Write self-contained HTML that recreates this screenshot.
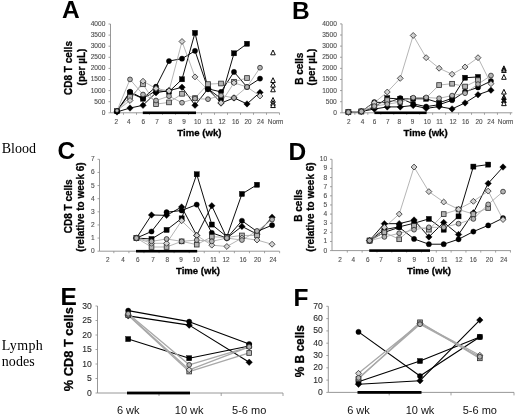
<!DOCTYPE html>
<html><head><meta charset="utf-8"><style>
html,body{margin:0;padding:0;background:#fff;}
body{width:520px;height:415px;overflow:hidden;font-family:"Liberation Sans", sans-serif;}
svg{display:block;will-change:transform;}
</style></head><body>
<svg width="520" height="415" viewBox="0 0 520 415">
<rect width="520" height="415" fill="#fff"/>
<path d="M110.5 24 V112.8 H279.5" fill="none" stroke="#8c8c8c" stroke-width="0.9"/>
<path d="M108.5 112.8H110.5" stroke="#8c8c8c" stroke-width="0.8"/>
<text x="105.3" y="114.78" font-family='"Liberation Sans", sans-serif' font-size="6.6" font-weight="normal" text-anchor="end" fill="#505050" stroke="#505050" stroke-width="0.12">0</text>
<path d="M108.5 101.7H110.5" stroke="#8c8c8c" stroke-width="0.8"/>
<text x="105.3" y="103.68" font-family='"Liberation Sans", sans-serif' font-size="6.6" font-weight="normal" text-anchor="end" fill="#505050" stroke="#505050" stroke-width="0.12">500</text>
<path d="M108.5 90.6H110.5" stroke="#8c8c8c" stroke-width="0.8"/>
<text x="105.3" y="92.58" font-family='"Liberation Sans", sans-serif' font-size="6.6" font-weight="normal" text-anchor="end" fill="#505050" stroke="#505050" stroke-width="0.12">1000</text>
<path d="M108.5 79.5H110.5" stroke="#8c8c8c" stroke-width="0.8"/>
<text x="105.3" y="81.48" font-family='"Liberation Sans", sans-serif' font-size="6.6" font-weight="normal" text-anchor="end" fill="#505050" stroke="#505050" stroke-width="0.12">1500</text>
<path d="M108.5 68.4H110.5" stroke="#8c8c8c" stroke-width="0.8"/>
<text x="105.3" y="70.38" font-family='"Liberation Sans", sans-serif' font-size="6.6" font-weight="normal" text-anchor="end" fill="#505050" stroke="#505050" stroke-width="0.12">2000</text>
<path d="M108.5 57.3H110.5" stroke="#8c8c8c" stroke-width="0.8"/>
<text x="105.3" y="59.28" font-family='"Liberation Sans", sans-serif' font-size="6.6" font-weight="normal" text-anchor="end" fill="#505050" stroke="#505050" stroke-width="0.12">2500</text>
<path d="M108.5 46.2H110.5" stroke="#8c8c8c" stroke-width="0.8"/>
<text x="105.3" y="48.18" font-family='"Liberation Sans", sans-serif' font-size="6.6" font-weight="normal" text-anchor="end" fill="#505050" stroke="#505050" stroke-width="0.12">3000</text>
<path d="M108.5 35.1H110.5" stroke="#8c8c8c" stroke-width="0.8"/>
<text x="105.3" y="37.08" font-family='"Liberation Sans", sans-serif' font-size="6.6" font-weight="normal" text-anchor="end" fill="#505050" stroke="#505050" stroke-width="0.12">3500</text>
<path d="M108.5 24H110.5" stroke="#8c8c8c" stroke-width="0.8"/>
<text x="105.3" y="25.98" font-family='"Liberation Sans", sans-serif' font-size="6.6" font-weight="normal" text-anchor="end" fill="#505050" stroke="#505050" stroke-width="0.12">4000</text>
<path d="M123.5 112.8V114.8" stroke="#8c8c8c" stroke-width="0.8"/>
<path d="M136.5 112.8V114.8" stroke="#8c8c8c" stroke-width="0.8"/>
<path d="M149.5 112.8V114.8" stroke="#8c8c8c" stroke-width="0.8"/>
<path d="M162.5 112.8V114.8" stroke="#8c8c8c" stroke-width="0.8"/>
<path d="M175.5 112.8V114.8" stroke="#8c8c8c" stroke-width="0.8"/>
<path d="M188.5 112.8V114.8" stroke="#8c8c8c" stroke-width="0.8"/>
<path d="M201.5 112.8V114.8" stroke="#8c8c8c" stroke-width="0.8"/>
<path d="M214.5 112.8V114.8" stroke="#8c8c8c" stroke-width="0.8"/>
<path d="M227.5 112.8V114.8" stroke="#8c8c8c" stroke-width="0.8"/>
<path d="M240.5 112.8V114.8" stroke="#8c8c8c" stroke-width="0.8"/>
<path d="M253.5 112.8V114.8" stroke="#8c8c8c" stroke-width="0.8"/>
<path d="M266.5 112.8V114.8" stroke="#8c8c8c" stroke-width="0.8"/>
<path d="M279.5 112.8V114.8" stroke="#8c8c8c" stroke-width="0.8"/>
<text x="116.3" y="123.6" font-family='"Liberation Sans", sans-serif' font-size="6.4" font-weight="normal" text-anchor="middle" fill="#505050" stroke="#505050" stroke-width="0.12">2</text>
<text x="128.7" y="123.6" font-family='"Liberation Sans", sans-serif' font-size="6.4" font-weight="normal" text-anchor="middle" fill="#505050" stroke="#505050" stroke-width="0.12">4</text>
<text x="143.4" y="123.6" font-family='"Liberation Sans", sans-serif' font-size="6.4" font-weight="normal" text-anchor="middle" fill="#505050" stroke="#505050" stroke-width="0.12">6</text>
<text x="157" y="123.6" font-family='"Liberation Sans", sans-serif' font-size="6.4" font-weight="normal" text-anchor="middle" fill="#505050" stroke="#505050" stroke-width="0.12">7</text>
<text x="170.2" y="123.6" font-family='"Liberation Sans", sans-serif' font-size="6.4" font-weight="normal" text-anchor="middle" fill="#505050" stroke="#505050" stroke-width="0.12">8</text>
<text x="184" y="123.6" font-family='"Liberation Sans", sans-serif' font-size="6.4" font-weight="normal" text-anchor="middle" fill="#505050" stroke="#505050" stroke-width="0.12">9</text>
<text x="197.5" y="123.6" font-family='"Liberation Sans", sans-serif' font-size="6.4" font-weight="normal" text-anchor="middle" fill="#505050" stroke="#505050" stroke-width="0.12">10</text>
<text x="209.4" y="123.6" font-family='"Liberation Sans", sans-serif' font-size="6.4" font-weight="normal" text-anchor="middle" fill="#505050" stroke="#505050" stroke-width="0.12">11</text>
<text x="222.1" y="123.6" font-family='"Liberation Sans", sans-serif' font-size="6.4" font-weight="normal" text-anchor="middle" fill="#505050" stroke="#505050" stroke-width="0.12">12</text>
<text x="235.6" y="123.6" font-family='"Liberation Sans", sans-serif' font-size="6.4" font-weight="normal" text-anchor="middle" fill="#505050" stroke="#505050" stroke-width="0.12">16</text>
<text x="248.1" y="123.6" font-family='"Liberation Sans", sans-serif' font-size="6.4" font-weight="normal" text-anchor="middle" fill="#505050" stroke="#505050" stroke-width="0.12">20</text>
<text x="260.6" y="123.6" font-family='"Liberation Sans", sans-serif' font-size="6.4" font-weight="normal" text-anchor="middle" fill="#505050" stroke="#505050" stroke-width="0.12">24</text>
<text x="275.6" y="123.6" font-family='"Liberation Sans", sans-serif' font-size="6.4" font-weight="normal" text-anchor="middle" fill="#505050" stroke="#505050" stroke-width="0.12">Norm</text>
<rect x="142.8" y="111.5" width="53.2" height="2.6" fill="#000"/>
<path d="M117 111.91 L130 108.03 L143 105.3 L156 92.71 L169 90.6 L182 87.29 L195 105.21 L208 88.89 L221 103.1 L234 97.9 L247 103.9 L260 92.4" fill="none" stroke="#000" stroke-width="0.95" stroke-linejoin="round"/>
<path d="M117 111.02 L130 91.71 L143 98.37 L156 86.72 L169 61.07 L182 58.63 L195 50.86 L208 88.82 L221 91.91 L234 71.91 L247 87 L260 78.61" fill="none" stroke="#000" stroke-width="0.95" stroke-linejoin="round"/>
<path d="M117 111.25 L130 92.82 L143 98.7 L156 90.6 L169 91.71 L182 79.28 L195 32.88 L208 88.82 L221 98.5 L234 53.3 L247 43.76" fill="none" stroke="#000" stroke-width="0.95" stroke-linejoin="round"/>
<path d="M117 110.58 L130 96.9 L143 84.3 L156 104.1 L169 102.41 L182 93.8 L195 98.1 L208 84.1 L221 83.5 L234 81.72 L247 78.01" fill="none" stroke="#a8a8a8" stroke-width="0.85" stroke-linejoin="round"/>
<path d="M117 110.58 L130 100.5 L143 81.21 L156 88.49 L169 90.91 L182 41.49 L195 76.9 L208 89.93 L221 102.81 L234 82.81 L247 87 L260 95.99" fill="none" stroke="#a8a8a8" stroke-width="0.85" stroke-linejoin="round"/>
<path d="M117 110.8 L130 79.41 L143 94.51 L156 100.5 L169 96.19 L182 102.7 L195 98.59 L208 99.19 L221 95.51 L234 97.9 L247 87 L260 67.71" fill="none" stroke="#a8a8a8" stroke-width="0.85" stroke-linejoin="round"/>
<path d="M117 108.66L120.25 111.91L117 115.16L113.75 111.91Z" fill="#000" stroke="#000" stroke-width="0.4"/>
<path d="M130 104.78L133.25 108.03L130 111.28L126.75 108.03Z" fill="#000" stroke="#000" stroke-width="0.4"/>
<path d="M143 102.05L146.25 105.3L143 108.55L139.75 105.3Z" fill="#000" stroke="#000" stroke-width="0.4"/>
<path d="M156 89.46L159.25 92.71L156 95.96L152.75 92.71Z" fill="#000" stroke="#000" stroke-width="0.4"/>
<path d="M169 87.35L172.25 90.6L169 93.85L165.75 90.6Z" fill="#000" stroke="#000" stroke-width="0.4"/>
<path d="M182 84.04L185.25 87.29L182 90.54L178.75 87.29Z" fill="#000" stroke="#000" stroke-width="0.4"/>
<path d="M195 101.96L198.25 105.21L195 108.46L191.75 105.21Z" fill="#000" stroke="#000" stroke-width="0.4"/>
<path d="M208 85.64L211.25 88.89L208 92.14L204.75 88.89Z" fill="#000" stroke="#000" stroke-width="0.4"/>
<path d="M221 99.85L224.25 103.1L221 106.35L217.75 103.1Z" fill="#000" stroke="#000" stroke-width="0.4"/>
<path d="M234 94.65L237.25 97.9L234 101.15L230.75 97.9Z" fill="#000" stroke="#000" stroke-width="0.4"/>
<path d="M247 100.65L250.25 103.9L247 107.15L243.75 103.9Z" fill="#000" stroke="#000" stroke-width="0.4"/>
<path d="M260 89.15L263.25 92.4L260 95.65L256.75 92.4Z" fill="#000" stroke="#000" stroke-width="0.4"/>
<circle cx="117" cy="111.02" r="2.6" fill="#000" stroke="#000" stroke-width="0.4"/>
<circle cx="130" cy="91.71" r="2.6" fill="#000" stroke="#000" stroke-width="0.4"/>
<circle cx="143" cy="98.37" r="2.6" fill="#000" stroke="#000" stroke-width="0.4"/>
<circle cx="156" cy="86.72" r="2.6" fill="#000" stroke="#000" stroke-width="0.4"/>
<circle cx="169" cy="61.07" r="2.6" fill="#000" stroke="#000" stroke-width="0.4"/>
<circle cx="182" cy="58.63" r="2.6" fill="#000" stroke="#000" stroke-width="0.4"/>
<circle cx="195" cy="50.86" r="2.6" fill="#000" stroke="#000" stroke-width="0.4"/>
<circle cx="208" cy="88.82" r="2.6" fill="#000" stroke="#000" stroke-width="0.4"/>
<circle cx="221" cy="91.91" r="2.6" fill="#000" stroke="#000" stroke-width="0.4"/>
<circle cx="234" cy="71.91" r="2.6" fill="#000" stroke="#000" stroke-width="0.4"/>
<circle cx="247" cy="87" r="2.6" fill="#000" stroke="#000" stroke-width="0.4"/>
<circle cx="260" cy="78.61" r="2.6" fill="#000" stroke="#000" stroke-width="0.4"/>
<rect x="114.45" y="108.7" width="5.1" height="5.1" fill="#000" stroke="#000" stroke-width="0.4"/>
<rect x="127.45" y="90.27" width="5.1" height="5.1" fill="#000" stroke="#000" stroke-width="0.4"/>
<rect x="140.45" y="96.15" width="5.1" height="5.1" fill="#000" stroke="#000" stroke-width="0.4"/>
<rect x="153.45" y="88.05" width="5.1" height="5.1" fill="#000" stroke="#000" stroke-width="0.4"/>
<rect x="166.45" y="89.16" width="5.1" height="5.1" fill="#000" stroke="#000" stroke-width="0.4"/>
<rect x="179.45" y="76.73" width="5.1" height="5.1" fill="#000" stroke="#000" stroke-width="0.4"/>
<rect x="192.45" y="30.33" width="5.1" height="5.1" fill="#000" stroke="#000" stroke-width="0.4"/>
<rect x="205.45" y="86.27" width="5.1" height="5.1" fill="#000" stroke="#000" stroke-width="0.4"/>
<rect x="218.45" y="95.95" width="5.1" height="5.1" fill="#000" stroke="#000" stroke-width="0.4"/>
<rect x="231.45" y="50.75" width="5.1" height="5.1" fill="#000" stroke="#000" stroke-width="0.4"/>
<rect x="244.45" y="41.21" width="5.1" height="5.1" fill="#000" stroke="#000" stroke-width="0.4"/>
<rect x="127.65" y="94.55" width="4.7" height="4.7" fill="#b4b4b4" stroke="#2a2a2a" stroke-width="0.8"/>
<rect x="140.65" y="81.95" width="4.7" height="4.7" fill="#b4b4b4" stroke="#2a2a2a" stroke-width="0.8"/>
<rect x="153.65" y="101.75" width="4.7" height="4.7" fill="#b4b4b4" stroke="#2a2a2a" stroke-width="0.8"/>
<rect x="166.65" y="100.06" width="4.7" height="4.7" fill="#b4b4b4" stroke="#2a2a2a" stroke-width="0.8"/>
<rect x="179.65" y="91.45" width="4.7" height="4.7" fill="#b4b4b4" stroke="#2a2a2a" stroke-width="0.8"/>
<rect x="192.65" y="95.75" width="4.7" height="4.7" fill="#b4b4b4" stroke="#2a2a2a" stroke-width="0.8"/>
<rect x="205.65" y="81.75" width="4.7" height="4.7" fill="#b4b4b4" stroke="#2a2a2a" stroke-width="0.8"/>
<rect x="218.65" y="81.15" width="4.7" height="4.7" fill="#b4b4b4" stroke="#2a2a2a" stroke-width="0.8"/>
<rect x="231.65" y="79.37" width="4.7" height="4.7" fill="#b4b4b4" stroke="#2a2a2a" stroke-width="0.8"/>
<rect x="244.65" y="75.66" width="4.7" height="4.7" fill="#b4b4b4" stroke="#2a2a2a" stroke-width="0.8"/>
<path d="M130 97.55L132.95 100.5L130 103.45L127.05 100.5Z" fill="#d2d2d2" stroke="#2a2a2a" stroke-width="0.8"/>
<path d="M143 78.26L145.95 81.21L143 84.16L140.05 81.21Z" fill="#d2d2d2" stroke="#2a2a2a" stroke-width="0.8"/>
<path d="M156 85.54L158.95 88.49L156 91.44L153.05 88.49Z" fill="#d2d2d2" stroke="#2a2a2a" stroke-width="0.8"/>
<path d="M169 87.96L171.95 90.91L169 93.86L166.05 90.91Z" fill="#d2d2d2" stroke="#2a2a2a" stroke-width="0.8"/>
<path d="M182 38.54L184.95 41.49L182 44.44L179.05 41.49Z" fill="#d2d2d2" stroke="#2a2a2a" stroke-width="0.8"/>
<path d="M195 73.95L197.95 76.9L195 79.85L192.05 76.9Z" fill="#d2d2d2" stroke="#2a2a2a" stroke-width="0.8"/>
<path d="M221 99.86L223.95 102.81L221 105.76L218.05 102.81Z" fill="#d2d2d2" stroke="#2a2a2a" stroke-width="0.8"/>
<path d="M234 79.86L236.95 82.81L234 85.76L231.05 82.81Z" fill="#d2d2d2" stroke="#2a2a2a" stroke-width="0.8"/>
<path d="M247 84.05L249.95 87L247 89.95L244.05 87Z" fill="#d2d2d2" stroke="#2a2a2a" stroke-width="0.8"/>
<path d="M260 93.04L262.95 95.99L260 98.94L257.05 95.99Z" fill="#d2d2d2" stroke="#2a2a2a" stroke-width="0.8"/>
<circle cx="130" cy="79.41" r="2.4" fill="#b4b4b4" stroke="#2a2a2a" stroke-width="0.8"/>
<circle cx="143" cy="94.51" r="2.4" fill="#b4b4b4" stroke="#2a2a2a" stroke-width="0.8"/>
<circle cx="156" cy="100.5" r="2.4" fill="#b4b4b4" stroke="#2a2a2a" stroke-width="0.8"/>
<circle cx="169" cy="96.19" r="2.4" fill="#b4b4b4" stroke="#2a2a2a" stroke-width="0.8"/>
<circle cx="182" cy="102.7" r="2.4" fill="#b4b4b4" stroke="#2a2a2a" stroke-width="0.8"/>
<circle cx="195" cy="98.59" r="2.4" fill="#b4b4b4" stroke="#2a2a2a" stroke-width="0.8"/>
<circle cx="208" cy="99.19" r="2.4" fill="#b4b4b4" stroke="#2a2a2a" stroke-width="0.8"/>
<circle cx="221" cy="95.51" r="2.4" fill="#b4b4b4" stroke="#2a2a2a" stroke-width="0.8"/>
<circle cx="234" cy="97.9" r="2.4" fill="#b4b4b4" stroke="#2a2a2a" stroke-width="0.8"/>
<circle cx="247" cy="87" r="2.4" fill="#b4b4b4" stroke="#2a2a2a" stroke-width="0.8"/>
<circle cx="260" cy="67.71" r="2.4" fill="#b4b4b4" stroke="#2a2a2a" stroke-width="0.8"/>
<circle cx="117" cy="110.58" r="1.6" fill="#c0c0c0" stroke="#666" stroke-width="0.4"/>
<path d="M273 50L275.3 54.8L270.7 54.8Z" fill="#fff" stroke="#000" stroke-width="0.95" stroke-linejoin="round"/>
<path d="M273 77.71L275.3 82.51L270.7 82.51Z" fill="#fff" stroke="#000" stroke-width="0.95" stroke-linejoin="round"/>
<path d="M273 82.31L275.3 87.11L270.7 87.11Z" fill="#fff" stroke="#000" stroke-width="0.95" stroke-linejoin="round"/>
<path d="M273 86.99L275.3 91.79L270.7 91.79Z" fill="#fff" stroke="#000" stroke-width="0.95" stroke-linejoin="round"/>
<path d="M273 97.51L275.3 102.31L270.7 102.31Z" fill="#fff" stroke="#000" stroke-width="0.95" stroke-linejoin="round"/>
<path d="M273 100.53L275.3 105.33L270.7 105.33Z" fill="#fff" stroke="#000" stroke-width="0.95" stroke-linejoin="round"/>
<path d="M273 102.75L275.3 107.55L270.7 107.55Z" fill="#fff" stroke="#000" stroke-width="0.95" stroke-linejoin="round"/>
<text x="72.4" y="68" font-family='"Liberation Sans", sans-serif' font-size="10" font-weight="bold" text-anchor="middle" fill="#000" transform="rotate(-90 72.4 68)" stroke="#000" stroke-width="0.3">CD8 T cells</text>
<text x="84.8" y="67" font-family='"Liberation Sans", sans-serif' font-size="10" font-weight="bold" text-anchor="middle" fill="#000" transform="rotate(-90 84.8 67)" stroke="#000" stroke-width="0.3">(per µL)</text>
<text x="199.4" y="135.8" font-family='"Liberation Sans", sans-serif' font-size="9.6" font-weight="bold" text-anchor="middle" fill="#000" stroke="#000" stroke-width="0.3">Time (wk)</text>
<text x="62" y="18.3" font-family='"Liberation Sans", sans-serif' font-size="24.5" font-weight="bold" text-anchor="start" fill="#000">A</text>
<path d="M342 23.9 V112.8 H512.3" fill="none" stroke="#8c8c8c" stroke-width="0.9"/>
<path d="M340 112.8H342" stroke="#8c8c8c" stroke-width="0.8"/>
<text x="336.8" y="114.78" font-family='"Liberation Sans", sans-serif' font-size="6.6" font-weight="normal" text-anchor="end" fill="#505050" stroke="#505050" stroke-width="0.12">0</text>
<path d="M340 101.69H342" stroke="#8c8c8c" stroke-width="0.8"/>
<text x="336.8" y="103.67" font-family='"Liberation Sans", sans-serif' font-size="6.6" font-weight="normal" text-anchor="end" fill="#505050" stroke="#505050" stroke-width="0.12">500</text>
<path d="M340 90.57H342" stroke="#8c8c8c" stroke-width="0.8"/>
<text x="336.8" y="92.55" font-family='"Liberation Sans", sans-serif' font-size="6.6" font-weight="normal" text-anchor="end" fill="#505050" stroke="#505050" stroke-width="0.12">1000</text>
<path d="M340 79.46H342" stroke="#8c8c8c" stroke-width="0.8"/>
<text x="336.8" y="81.44" font-family='"Liberation Sans", sans-serif' font-size="6.6" font-weight="normal" text-anchor="end" fill="#505050" stroke="#505050" stroke-width="0.12">1500</text>
<path d="M340 68.35H342" stroke="#8c8c8c" stroke-width="0.8"/>
<text x="336.8" y="70.33" font-family='"Liberation Sans", sans-serif' font-size="6.6" font-weight="normal" text-anchor="end" fill="#505050" stroke="#505050" stroke-width="0.12">2000</text>
<path d="M340 57.24H342" stroke="#8c8c8c" stroke-width="0.8"/>
<text x="336.8" y="59.22" font-family='"Liberation Sans", sans-serif' font-size="6.6" font-weight="normal" text-anchor="end" fill="#505050" stroke="#505050" stroke-width="0.12">2500</text>
<path d="M340 46.12H342" stroke="#8c8c8c" stroke-width="0.8"/>
<text x="336.8" y="48.1" font-family='"Liberation Sans", sans-serif' font-size="6.6" font-weight="normal" text-anchor="end" fill="#505050" stroke="#505050" stroke-width="0.12">3000</text>
<path d="M340 35.01H342" stroke="#8c8c8c" stroke-width="0.8"/>
<text x="336.8" y="36.99" font-family='"Liberation Sans", sans-serif' font-size="6.6" font-weight="normal" text-anchor="end" fill="#505050" stroke="#505050" stroke-width="0.12">3500</text>
<path d="M340 23.9H342" stroke="#8c8c8c" stroke-width="0.8"/>
<text x="336.8" y="25.88" font-family='"Liberation Sans", sans-serif' font-size="6.6" font-weight="normal" text-anchor="end" fill="#505050" stroke="#505050" stroke-width="0.12">4000</text>
<path d="M354.88 112.8V114.8" stroke="#8c8c8c" stroke-width="0.8"/>
<path d="M367.84 112.8V114.8" stroke="#8c8c8c" stroke-width="0.8"/>
<path d="M380.8 112.8V114.8" stroke="#8c8c8c" stroke-width="0.8"/>
<path d="M393.76 112.8V114.8" stroke="#8c8c8c" stroke-width="0.8"/>
<path d="M406.72 112.8V114.8" stroke="#8c8c8c" stroke-width="0.8"/>
<path d="M419.68 112.8V114.8" stroke="#8c8c8c" stroke-width="0.8"/>
<path d="M432.64 112.8V114.8" stroke="#8c8c8c" stroke-width="0.8"/>
<path d="M445.6 112.8V114.8" stroke="#8c8c8c" stroke-width="0.8"/>
<path d="M458.56 112.8V114.8" stroke="#8c8c8c" stroke-width="0.8"/>
<path d="M471.52 112.8V114.8" stroke="#8c8c8c" stroke-width="0.8"/>
<path d="M484.48 112.8V114.8" stroke="#8c8c8c" stroke-width="0.8"/>
<path d="M497.44 112.8V114.8" stroke="#8c8c8c" stroke-width="0.8"/>
<path d="M510.4 112.8V114.8" stroke="#8c8c8c" stroke-width="0.8"/>
<text x="348.9" y="123.6" font-family='"Liberation Sans", sans-serif' font-size="6.4" font-weight="normal" text-anchor="middle" fill="#505050" stroke="#505050" stroke-width="0.12">2</text>
<text x="362.5" y="123.6" font-family='"Liberation Sans", sans-serif' font-size="6.4" font-weight="normal" text-anchor="middle" fill="#505050" stroke="#505050" stroke-width="0.12">4</text>
<text x="374.6" y="123.6" font-family='"Liberation Sans", sans-serif' font-size="6.4" font-weight="normal" text-anchor="middle" fill="#505050" stroke="#505050" stroke-width="0.12">6</text>
<text x="387.9" y="123.6" font-family='"Liberation Sans", sans-serif' font-size="6.4" font-weight="normal" text-anchor="middle" fill="#505050" stroke="#505050" stroke-width="0.12">7</text>
<text x="399.2" y="123.6" font-family='"Liberation Sans", sans-serif' font-size="6.4" font-weight="normal" text-anchor="middle" fill="#505050" stroke="#505050" stroke-width="0.12">8</text>
<text x="412.5" y="123.6" font-family='"Liberation Sans", sans-serif' font-size="6.4" font-weight="normal" text-anchor="middle" fill="#505050" stroke="#505050" stroke-width="0.12">9</text>
<text x="427.3" y="123.6" font-family='"Liberation Sans", sans-serif' font-size="6.4" font-weight="normal" text-anchor="middle" fill="#505050" stroke="#505050" stroke-width="0.12">10</text>
<text x="439.6" y="123.6" font-family='"Liberation Sans", sans-serif' font-size="6.4" font-weight="normal" text-anchor="middle" fill="#505050" stroke="#505050" stroke-width="0.12">11</text>
<text x="453.1" y="123.6" font-family='"Liberation Sans", sans-serif' font-size="6.4" font-weight="normal" text-anchor="middle" fill="#505050" stroke="#505050" stroke-width="0.12">12</text>
<text x="465.6" y="123.6" font-family='"Liberation Sans", sans-serif' font-size="6.4" font-weight="normal" text-anchor="middle" fill="#505050" stroke="#505050" stroke-width="0.12">16</text>
<text x="479" y="123.6" font-family='"Liberation Sans", sans-serif' font-size="6.4" font-weight="normal" text-anchor="middle" fill="#505050" stroke="#505050" stroke-width="0.12">20</text>
<text x="490.9" y="123.6" font-family='"Liberation Sans", sans-serif' font-size="6.4" font-weight="normal" text-anchor="middle" fill="#505050" stroke="#505050" stroke-width="0.12">24</text>
<text x="505.6" y="123.6" font-family='"Liberation Sans", sans-serif' font-size="6.4" font-weight="normal" text-anchor="middle" fill="#505050" stroke="#505050" stroke-width="0.12">Norm</text>
<rect x="374.4" y="111.5" width="52.2" height="2.6" fill="#000"/>
<path d="M348.4 112.13 L361.36 111.47 L374.32 109.02 L387.28 106.91 L400.24 106.91 L413.2 105.47 L426.16 108.35 L439.12 106.6 L452.08 108.91 L465.04 102.91 L478 94.73 L490.96 90.13" fill="none" stroke="#000" stroke-width="0.95" stroke-linejoin="round"/>
<path d="M348.4 112.13 L361.36 111.47 L374.32 102.13 L387.28 102.8 L400.24 98.13 L413.2 103.91 L426.16 106.6 L439.12 104.71 L452.08 100.22 L465.04 91.69 L478 87.44 L490.96 81.02" fill="none" stroke="#000" stroke-width="0.95" stroke-linejoin="round"/>
<path d="M348.4 112.13 L361.36 111.47 L374.32 107.24 L387.28 98.13 L400.24 99.02 L413.2 98.8 L426.16 98.8 L439.12 102.8 L452.08 98.35 L465.04 77.73 L478 76.95" fill="none" stroke="#000" stroke-width="0.95" stroke-linejoin="round"/>
<path d="M348.4 112.13 L361.36 111.47 L374.32 106.13 L387.28 100.13 L400.24 102.13 L413.2 97.46 L426.16 97.82 L439.12 85.04 L452.08 83.73 L465.04 86.53 L478 80.13" fill="none" stroke="#a8a8a8" stroke-width="0.85" stroke-linejoin="round"/>
<path d="M348.4 112.13 L361.36 111.47 L374.32 102.8 L387.28 92.02 L400.24 78.35 L413.2 35.46 L426.16 57.68 L439.12 68.26 L452.08 74.24 L465.04 66.95 L478 57.68 L490.96 83.73" fill="none" stroke="#a8a8a8" stroke-width="0.85" stroke-linejoin="round"/>
<path d="M348.4 112.13 L361.36 111.47 L374.32 106.13 L387.28 104.13 L400.24 102.13 L413.2 97.69 L426.16 97.46 L439.12 98.31 L452.08 95.62 L465.04 93.22 L478 84.13 L490.96 75.55" fill="none" stroke="#a8a8a8" stroke-width="0.85" stroke-linejoin="round"/>
<path d="M348.4 108.88L351.65 112.13L348.4 115.38L345.15 112.13Z" fill="#000" stroke="#000" stroke-width="0.4"/>
<path d="M361.36 108.22L364.61 111.47L361.36 114.72L358.11 111.47Z" fill="#000" stroke="#000" stroke-width="0.4"/>
<path d="M374.32 105.77L377.57 109.02L374.32 112.27L371.07 109.02Z" fill="#000" stroke="#000" stroke-width="0.4"/>
<path d="M387.28 103.66L390.53 106.91L387.28 110.16L384.03 106.91Z" fill="#000" stroke="#000" stroke-width="0.4"/>
<path d="M400.24 103.66L403.49 106.91L400.24 110.16L396.99 106.91Z" fill="#000" stroke="#000" stroke-width="0.4"/>
<path d="M413.2 102.22L416.45 105.47L413.2 108.72L409.95 105.47Z" fill="#000" stroke="#000" stroke-width="0.4"/>
<path d="M426.16 105.1L429.41 108.35L426.16 111.6L422.91 108.35Z" fill="#000" stroke="#000" stroke-width="0.4"/>
<path d="M439.12 103.35L442.37 106.6L439.12 109.85L435.87 106.6Z" fill="#000" stroke="#000" stroke-width="0.4"/>
<path d="M452.08 105.66L455.33 108.91L452.08 112.16L448.83 108.91Z" fill="#000" stroke="#000" stroke-width="0.4"/>
<path d="M465.04 99.66L468.29 102.91L465.04 106.16L461.79 102.91Z" fill="#000" stroke="#000" stroke-width="0.4"/>
<path d="M478 91.48L481.25 94.73L478 97.98L474.75 94.73Z" fill="#000" stroke="#000" stroke-width="0.4"/>
<path d="M490.96 86.88L494.21 90.13L490.96 93.38L487.71 90.13Z" fill="#000" stroke="#000" stroke-width="0.4"/>
<circle cx="348.4" cy="112.13" r="2.6" fill="#000" stroke="#000" stroke-width="0.4"/>
<circle cx="361.36" cy="111.47" r="2.6" fill="#000" stroke="#000" stroke-width="0.4"/>
<circle cx="374.32" cy="102.13" r="2.6" fill="#000" stroke="#000" stroke-width="0.4"/>
<circle cx="387.28" cy="102.8" r="2.6" fill="#000" stroke="#000" stroke-width="0.4"/>
<circle cx="400.24" cy="98.13" r="2.6" fill="#000" stroke="#000" stroke-width="0.4"/>
<circle cx="413.2" cy="103.91" r="2.6" fill="#000" stroke="#000" stroke-width="0.4"/>
<circle cx="426.16" cy="106.6" r="2.6" fill="#000" stroke="#000" stroke-width="0.4"/>
<circle cx="439.12" cy="104.71" r="2.6" fill="#000" stroke="#000" stroke-width="0.4"/>
<circle cx="452.08" cy="100.22" r="2.6" fill="#000" stroke="#000" stroke-width="0.4"/>
<circle cx="465.04" cy="91.69" r="2.6" fill="#000" stroke="#000" stroke-width="0.4"/>
<circle cx="478" cy="87.44" r="2.6" fill="#000" stroke="#000" stroke-width="0.4"/>
<circle cx="490.96" cy="81.02" r="2.6" fill="#000" stroke="#000" stroke-width="0.4"/>
<rect x="345.85" y="109.58" width="5.1" height="5.1" fill="#000" stroke="#000" stroke-width="0.4"/>
<rect x="358.81" y="108.92" width="5.1" height="5.1" fill="#000" stroke="#000" stroke-width="0.4"/>
<rect x="371.77" y="104.69" width="5.1" height="5.1" fill="#000" stroke="#000" stroke-width="0.4"/>
<rect x="384.73" y="95.58" width="5.1" height="5.1" fill="#000" stroke="#000" stroke-width="0.4"/>
<rect x="397.69" y="96.47" width="5.1" height="5.1" fill="#000" stroke="#000" stroke-width="0.4"/>
<rect x="410.65" y="96.25" width="5.1" height="5.1" fill="#000" stroke="#000" stroke-width="0.4"/>
<rect x="423.61" y="96.25" width="5.1" height="5.1" fill="#000" stroke="#000" stroke-width="0.4"/>
<rect x="436.57" y="100.25" width="5.1" height="5.1" fill="#000" stroke="#000" stroke-width="0.4"/>
<rect x="449.53" y="95.8" width="5.1" height="5.1" fill="#000" stroke="#000" stroke-width="0.4"/>
<rect x="462.49" y="75.18" width="5.1" height="5.1" fill="#000" stroke="#000" stroke-width="0.4"/>
<rect x="475.45" y="74.4" width="5.1" height="5.1" fill="#000" stroke="#000" stroke-width="0.4"/>
<rect x="346.05" y="109.78" width="4.7" height="4.7" fill="#b4b4b4" stroke="#2a2a2a" stroke-width="0.8"/>
<rect x="359.01" y="109.12" width="4.7" height="4.7" fill="#b4b4b4" stroke="#2a2a2a" stroke-width="0.8"/>
<rect x="371.97" y="103.78" width="4.7" height="4.7" fill="#b4b4b4" stroke="#2a2a2a" stroke-width="0.8"/>
<rect x="384.93" y="97.78" width="4.7" height="4.7" fill="#b4b4b4" stroke="#2a2a2a" stroke-width="0.8"/>
<rect x="397.89" y="99.78" width="4.7" height="4.7" fill="#b4b4b4" stroke="#2a2a2a" stroke-width="0.8"/>
<rect x="436.77" y="82.69" width="4.7" height="4.7" fill="#b4b4b4" stroke="#2a2a2a" stroke-width="0.8"/>
<rect x="449.73" y="81.38" width="4.7" height="4.7" fill="#b4b4b4" stroke="#2a2a2a" stroke-width="0.8"/>
<rect x="462.69" y="84.18" width="4.7" height="4.7" fill="#b4b4b4" stroke="#2a2a2a" stroke-width="0.8"/>
<rect x="475.65" y="77.78" width="4.7" height="4.7" fill="#b4b4b4" stroke="#2a2a2a" stroke-width="0.8"/>
<path d="M348.4 109.18L351.35 112.13L348.4 115.08L345.45 112.13Z" fill="#d2d2d2" stroke="#2a2a2a" stroke-width="0.8"/>
<path d="M361.36 108.52L364.31 111.47L361.36 114.42L358.41 111.47Z" fill="#d2d2d2" stroke="#2a2a2a" stroke-width="0.8"/>
<path d="M374.32 99.85L377.27 102.8L374.32 105.75L371.37 102.8Z" fill="#d2d2d2" stroke="#2a2a2a" stroke-width="0.8"/>
<path d="M387.28 89.07L390.23 92.02L387.28 94.97L384.33 92.02Z" fill="#d2d2d2" stroke="#2a2a2a" stroke-width="0.8"/>
<path d="M400.24 75.4L403.19 78.35L400.24 81.3L397.29 78.35Z" fill="#d2d2d2" stroke="#2a2a2a" stroke-width="0.8"/>
<path d="M413.2 32.51L416.15 35.46L413.2 38.41L410.25 35.46Z" fill="#d2d2d2" stroke="#2a2a2a" stroke-width="0.8"/>
<path d="M426.16 54.73L429.11 57.68L426.16 60.63L423.21 57.68Z" fill="#d2d2d2" stroke="#2a2a2a" stroke-width="0.8"/>
<path d="M439.12 65.31L442.07 68.26L439.12 71.21L436.17 68.26Z" fill="#d2d2d2" stroke="#2a2a2a" stroke-width="0.8"/>
<path d="M452.08 71.29L455.03 74.24L452.08 77.19L449.13 74.24Z" fill="#d2d2d2" stroke="#2a2a2a" stroke-width="0.8"/>
<path d="M465.04 64L467.99 66.95L465.04 69.9L462.09 66.95Z" fill="#d2d2d2" stroke="#2a2a2a" stroke-width="0.8"/>
<path d="M478 54.73L480.95 57.68L478 60.63L475.05 57.68Z" fill="#d2d2d2" stroke="#2a2a2a" stroke-width="0.8"/>
<path d="M490.96 80.78L493.91 83.73L490.96 86.68L488.01 83.73Z" fill="#d2d2d2" stroke="#2a2a2a" stroke-width="0.8"/>
<circle cx="348.4" cy="112.13" r="2.4" fill="#b4b4b4" stroke="#2a2a2a" stroke-width="0.8"/>
<circle cx="361.36" cy="111.47" r="2.4" fill="#b4b4b4" stroke="#2a2a2a" stroke-width="0.8"/>
<circle cx="374.32" cy="106.13" r="2.4" fill="#b4b4b4" stroke="#2a2a2a" stroke-width="0.8"/>
<circle cx="387.28" cy="104.13" r="2.4" fill="#b4b4b4" stroke="#2a2a2a" stroke-width="0.8"/>
<circle cx="400.24" cy="102.13" r="2.4" fill="#b4b4b4" stroke="#2a2a2a" stroke-width="0.8"/>
<circle cx="413.2" cy="97.69" r="2.4" fill="#b4b4b4" stroke="#2a2a2a" stroke-width="0.8"/>
<circle cx="426.16" cy="97.46" r="2.4" fill="#b4b4b4" stroke="#2a2a2a" stroke-width="0.8"/>
<circle cx="439.12" cy="98.31" r="2.4" fill="#b4b4b4" stroke="#2a2a2a" stroke-width="0.8"/>
<circle cx="452.08" cy="95.62" r="2.4" fill="#b4b4b4" stroke="#2a2a2a" stroke-width="0.8"/>
<circle cx="465.04" cy="93.22" r="2.4" fill="#b4b4b4" stroke="#2a2a2a" stroke-width="0.8"/>
<circle cx="478" cy="84.13" r="2.4" fill="#b4b4b4" stroke="#2a2a2a" stroke-width="0.8"/>
<circle cx="490.96" cy="75.55" r="2.4" fill="#b4b4b4" stroke="#2a2a2a" stroke-width="0.8"/>
<path d="M503.92 65.85L506.22 70.65L501.62 70.65Z" fill="#888" stroke="#000" stroke-width="0.95" stroke-linejoin="round"/>
<path d="M503.92 67.63L506.22 72.43L501.62 72.43Z" fill="#888" stroke="#000" stroke-width="0.95" stroke-linejoin="round"/>
<path d="M503.92 74.52L506.22 79.32L501.62 79.32Z" fill="#fff" stroke="#000" stroke-width="0.95" stroke-linejoin="round"/>
<path d="M503.92 89.3L506.22 94.1L501.62 94.1Z" fill="#fff" stroke="#000" stroke-width="0.95" stroke-linejoin="round"/>
<path d="M503.92 94.74L506.22 99.54L501.62 99.54Z" fill="#444" stroke="#000" stroke-width="0.95" stroke-linejoin="round"/>
<path d="M503.92 97.85L506.22 102.65L501.62 102.65Z" fill="#222" stroke="#000" stroke-width="0.95" stroke-linejoin="round"/>
<path d="M503.92 100.85L506.22 105.65L501.62 105.65Z" fill="#fff" stroke="#000" stroke-width="0.95" stroke-linejoin="round"/>
<text x="302.9" y="68.7" font-family='"Liberation Sans", sans-serif' font-size="10" font-weight="bold" text-anchor="middle" fill="#000" transform="rotate(-90 302.9 68.7)" stroke="#000" stroke-width="0.3">B cells</text>
<text x="314.7" y="67" font-family='"Liberation Sans", sans-serif' font-size="10" font-weight="bold" text-anchor="middle" fill="#000" transform="rotate(-90 314.7 67)" stroke="#000" stroke-width="0.3">(per µL)</text>
<text x="425.6" y="135.8" font-family='"Liberation Sans", sans-serif' font-size="9.6" font-weight="bold" text-anchor="middle" fill="#000" stroke="#000" stroke-width="0.3">Time (wk)</text>
<text x="292" y="18.7" font-family='"Liberation Sans", sans-serif' font-size="24.5" font-weight="bold" text-anchor="start" fill="#000">B</text>
<path d="M99.5 159.3 V251.2 H279.5" fill="none" stroke="#8c8c8c" stroke-width="0.9"/>
<path d="M97.5 251.2H99.5" stroke="#8c8c8c" stroke-width="0.8"/>
<text x="94.7" y="253.18" font-family='"Liberation Sans", sans-serif' font-size="6.6" font-weight="normal" text-anchor="end" fill="#505050" stroke="#505050" stroke-width="0.12">0</text>
<path d="M97.5 238.07H99.5" stroke="#8c8c8c" stroke-width="0.8"/>
<text x="94.7" y="240.05" font-family='"Liberation Sans", sans-serif' font-size="6.6" font-weight="normal" text-anchor="end" fill="#505050" stroke="#505050" stroke-width="0.12">1</text>
<path d="M97.5 224.94H99.5" stroke="#8c8c8c" stroke-width="0.8"/>
<text x="94.7" y="226.92" font-family='"Liberation Sans", sans-serif' font-size="6.6" font-weight="normal" text-anchor="end" fill="#505050" stroke="#505050" stroke-width="0.12">2</text>
<path d="M97.5 211.81H99.5" stroke="#8c8c8c" stroke-width="0.8"/>
<text x="94.7" y="213.79" font-family='"Liberation Sans", sans-serif' font-size="6.6" font-weight="normal" text-anchor="end" fill="#505050" stroke="#505050" stroke-width="0.12">3</text>
<path d="M97.5 198.69H99.5" stroke="#8c8c8c" stroke-width="0.8"/>
<text x="94.7" y="200.67" font-family='"Liberation Sans", sans-serif' font-size="6.6" font-weight="normal" text-anchor="end" fill="#505050" stroke="#505050" stroke-width="0.12">4</text>
<path d="M97.5 185.56H99.5" stroke="#8c8c8c" stroke-width="0.8"/>
<text x="94.7" y="187.54" font-family='"Liberation Sans", sans-serif' font-size="6.6" font-weight="normal" text-anchor="end" fill="#505050" stroke="#505050" stroke-width="0.12">5</text>
<path d="M97.5 172.43H99.5" stroke="#8c8c8c" stroke-width="0.8"/>
<text x="94.7" y="174.41" font-family='"Liberation Sans", sans-serif' font-size="6.6" font-weight="normal" text-anchor="end" fill="#505050" stroke="#505050" stroke-width="0.12">6</text>
<path d="M97.5 159.3H99.5" stroke="#8c8c8c" stroke-width="0.8"/>
<text x="94.7" y="161.28" font-family='"Liberation Sans", sans-serif' font-size="6.6" font-weight="normal" text-anchor="end" fill="#505050" stroke="#505050" stroke-width="0.12">7</text>
<path d="M113.84 251.2V253.2" stroke="#8c8c8c" stroke-width="0.8"/>
<path d="M128.91 251.2V253.2" stroke="#8c8c8c" stroke-width="0.8"/>
<path d="M143.97 251.2V253.2" stroke="#8c8c8c" stroke-width="0.8"/>
<path d="M159.05 251.2V253.2" stroke="#8c8c8c" stroke-width="0.8"/>
<path d="M174.12 251.2V253.2" stroke="#8c8c8c" stroke-width="0.8"/>
<path d="M189.19 251.2V253.2" stroke="#8c8c8c" stroke-width="0.8"/>
<path d="M204.25 251.2V253.2" stroke="#8c8c8c" stroke-width="0.8"/>
<path d="M219.32 251.2V253.2" stroke="#8c8c8c" stroke-width="0.8"/>
<path d="M234.39 251.2V253.2" stroke="#8c8c8c" stroke-width="0.8"/>
<path d="M249.46 251.2V253.2" stroke="#8c8c8c" stroke-width="0.8"/>
<path d="M264.54 251.2V253.2" stroke="#8c8c8c" stroke-width="0.8"/>
<path d="M279.61 251.2V253.2" stroke="#8c8c8c" stroke-width="0.8"/>
<text x="107.7" y="262" font-family='"Liberation Sans", sans-serif' font-size="6.4" font-weight="normal" text-anchor="middle" fill="#505050" stroke="#505050" stroke-width="0.12">2</text>
<text x="123.1" y="262" font-family='"Liberation Sans", sans-serif' font-size="6.4" font-weight="normal" text-anchor="middle" fill="#505050" stroke="#505050" stroke-width="0.12">4</text>
<text x="137.7" y="262" font-family='"Liberation Sans", sans-serif' font-size="6.4" font-weight="normal" text-anchor="middle" fill="#505050" stroke="#505050" stroke-width="0.12">6</text>
<text x="153.1" y="262" font-family='"Liberation Sans", sans-serif' font-size="6.4" font-weight="normal" text-anchor="middle" fill="#505050" stroke="#505050" stroke-width="0.12">7</text>
<text x="167.3" y="262" font-family='"Liberation Sans", sans-serif' font-size="6.4" font-weight="normal" text-anchor="middle" fill="#505050" stroke="#505050" stroke-width="0.12">8</text>
<text x="181" y="262" font-family='"Liberation Sans", sans-serif' font-size="6.4" font-weight="normal" text-anchor="middle" fill="#505050" stroke="#505050" stroke-width="0.12">9</text>
<text x="196.2" y="262" font-family='"Liberation Sans", sans-serif' font-size="6.4" font-weight="normal" text-anchor="middle" fill="#505050" stroke="#505050" stroke-width="0.12">10</text>
<text x="213.5" y="262" font-family='"Liberation Sans", sans-serif' font-size="6.4" font-weight="normal" text-anchor="middle" fill="#505050" stroke="#505050" stroke-width="0.12">11</text>
<text x="226.1" y="262" font-family='"Liberation Sans", sans-serif' font-size="6.4" font-weight="normal" text-anchor="middle" fill="#505050" stroke="#505050" stroke-width="0.12">12</text>
<text x="243" y="262" font-family='"Liberation Sans", sans-serif' font-size="6.4" font-weight="normal" text-anchor="middle" fill="#505050" stroke="#505050" stroke-width="0.12">16</text>
<text x="257.5" y="262" font-family='"Liberation Sans", sans-serif' font-size="6.4" font-weight="normal" text-anchor="middle" fill="#505050" stroke="#505050" stroke-width="0.12">20</text>
<text x="273" y="262" font-family='"Liberation Sans", sans-serif' font-size="6.4" font-weight="normal" text-anchor="middle" fill="#505050" stroke="#505050" stroke-width="0.12">24</text>
<rect x="136" y="249.9" width="61.2" height="2.6" fill="#000"/>
<path d="M136.44 238.07 L151.51 214.97 L166.58 215.36 L181.65 206.96 L196.72 235.45 L211.79 205.78 L226.86 238.07 L241.93 226.39 L257 234.13 L272.07 217.2" fill="none" stroke="#000" stroke-width="0.95" stroke-linejoin="round"/>
<path d="M136.44 238.07 L151.51 231.51 L166.58 212.21 L181.65 210.5 L196.72 204.59 L211.79 232.82 L226.86 238.07 L241.93 220.74 L257 231.51 L272.07 225.21" fill="none" stroke="#000" stroke-width="0.95" stroke-linejoin="round"/>
<path d="M136.44 238.07 L151.51 238.99 L166.58 229.93 L181.65 218.38 L196.72 174.27 L211.79 224.55 L226.86 236.76 L241.93 193.96 L257 184.77" fill="none" stroke="#000" stroke-width="0.95" stroke-linejoin="round"/>
<path d="M136.44 238.07 L151.51 247 L166.58 247 L181.65 241.35 L196.72 244.64 L211.79 236.76 L226.86 237.41 L241.93 235.45 L257 235.45" fill="none" stroke="#a8a8a8" stroke-width="0.85" stroke-linejoin="round"/>
<path d="M136.44 238.07 L151.51 243.32 L166.58 243.32 L181.65 220.74 L196.72 235.45 L211.79 245.16 L226.86 246.47 L241.93 238.07 L257 240.04 L272.07 244.24" fill="none" stroke="#a8a8a8" stroke-width="0.85" stroke-linejoin="round"/>
<path d="M136.44 238.07 L151.51 241.35 L166.58 238.99 L181.65 241.35 L196.72 240.04 L211.79 241.35 L226.86 238.07 L241.93 240.04 L257 230.98 L272.07 219.56" fill="none" stroke="#a8a8a8" stroke-width="0.85" stroke-linejoin="round"/>
<path d="M136.44 234.82L139.69 238.07L136.44 241.32L133.19 238.07Z" fill="#000" stroke="#000" stroke-width="0.4"/>
<path d="M151.51 211.72L154.76 214.97L151.51 218.22L148.26 214.97Z" fill="#000" stroke="#000" stroke-width="0.4"/>
<path d="M166.58 212.11L169.83 215.36L166.58 218.61L163.33 215.36Z" fill="#000" stroke="#000" stroke-width="0.4"/>
<path d="M181.65 203.71L184.9 206.96L181.65 210.21L178.4 206.96Z" fill="#000" stroke="#000" stroke-width="0.4"/>
<path d="M196.72 232.2L199.97 235.45L196.72 238.7L193.47 235.45Z" fill="#000" stroke="#000" stroke-width="0.4"/>
<path d="M211.79 202.53L215.04 205.78L211.79 209.03L208.54 205.78Z" fill="#000" stroke="#000" stroke-width="0.4"/>
<path d="M226.86 234.82L230.11 238.07L226.86 241.32L223.61 238.07Z" fill="#000" stroke="#000" stroke-width="0.4"/>
<path d="M241.93 223.14L245.18 226.39L241.93 229.64L238.68 226.39Z" fill="#000" stroke="#000" stroke-width="0.4"/>
<path d="M257 230.88L260.25 234.13L257 237.38L253.75 234.13Z" fill="#000" stroke="#000" stroke-width="0.4"/>
<path d="M272.07 213.95L275.32 217.2L272.07 220.45L268.82 217.2Z" fill="#000" stroke="#000" stroke-width="0.4"/>
<circle cx="136.44" cy="238.07" r="2.6" fill="#000" stroke="#000" stroke-width="0.4"/>
<circle cx="151.51" cy="231.51" r="2.6" fill="#000" stroke="#000" stroke-width="0.4"/>
<circle cx="166.58" cy="212.21" r="2.6" fill="#000" stroke="#000" stroke-width="0.4"/>
<circle cx="181.65" cy="210.5" r="2.6" fill="#000" stroke="#000" stroke-width="0.4"/>
<circle cx="196.72" cy="204.59" r="2.6" fill="#000" stroke="#000" stroke-width="0.4"/>
<circle cx="211.79" cy="232.82" r="2.6" fill="#000" stroke="#000" stroke-width="0.4"/>
<circle cx="226.86" cy="238.07" r="2.6" fill="#000" stroke="#000" stroke-width="0.4"/>
<circle cx="241.93" cy="220.74" r="2.6" fill="#000" stroke="#000" stroke-width="0.4"/>
<circle cx="257" cy="231.51" r="2.6" fill="#000" stroke="#000" stroke-width="0.4"/>
<circle cx="272.07" cy="225.21" r="2.6" fill="#000" stroke="#000" stroke-width="0.4"/>
<rect x="133.89" y="235.52" width="5.1" height="5.1" fill="#000" stroke="#000" stroke-width="0.4"/>
<rect x="148.96" y="236.44" width="5.1" height="5.1" fill="#000" stroke="#000" stroke-width="0.4"/>
<rect x="164.03" y="227.38" width="5.1" height="5.1" fill="#000" stroke="#000" stroke-width="0.4"/>
<rect x="179.1" y="215.83" width="5.1" height="5.1" fill="#000" stroke="#000" stroke-width="0.4"/>
<rect x="194.17" y="171.72" width="5.1" height="5.1" fill="#000" stroke="#000" stroke-width="0.4"/>
<rect x="209.24" y="222" width="5.1" height="5.1" fill="#000" stroke="#000" stroke-width="0.4"/>
<rect x="224.31" y="234.21" width="5.1" height="5.1" fill="#000" stroke="#000" stroke-width="0.4"/>
<rect x="239.38" y="191.41" width="5.1" height="5.1" fill="#000" stroke="#000" stroke-width="0.4"/>
<rect x="254.45" y="182.22" width="5.1" height="5.1" fill="#000" stroke="#000" stroke-width="0.4"/>
<rect x="134.09" y="235.72" width="4.7" height="4.7" fill="#b4b4b4" stroke="#2a2a2a" stroke-width="0.8"/>
<rect x="149.16" y="244.65" width="4.7" height="4.7" fill="#b4b4b4" stroke="#2a2a2a" stroke-width="0.8"/>
<rect x="164.23" y="244.65" width="4.7" height="4.7" fill="#b4b4b4" stroke="#2a2a2a" stroke-width="0.8"/>
<rect x="179.3" y="239" width="4.7" height="4.7" fill="#b4b4b4" stroke="#2a2a2a" stroke-width="0.8"/>
<rect x="194.37" y="242.29" width="4.7" height="4.7" fill="#b4b4b4" stroke="#2a2a2a" stroke-width="0.8"/>
<rect x="209.44" y="234.41" width="4.7" height="4.7" fill="#b4b4b4" stroke="#2a2a2a" stroke-width="0.8"/>
<rect x="224.51" y="235.06" width="4.7" height="4.7" fill="#b4b4b4" stroke="#2a2a2a" stroke-width="0.8"/>
<rect x="239.58" y="233.1" width="4.7" height="4.7" fill="#b4b4b4" stroke="#2a2a2a" stroke-width="0.8"/>
<rect x="254.65" y="233.1" width="4.7" height="4.7" fill="#b4b4b4" stroke="#2a2a2a" stroke-width="0.8"/>
<path d="M136.44 235.12L139.39 238.07L136.44 241.02L133.49 238.07Z" fill="#d2d2d2" stroke="#2a2a2a" stroke-width="0.8"/>
<path d="M151.51 240.37L154.46 243.32L151.51 246.27L148.56 243.32Z" fill="#d2d2d2" stroke="#2a2a2a" stroke-width="0.8"/>
<path d="M166.58 240.37L169.53 243.32L166.58 246.27L163.63 243.32Z" fill="#d2d2d2" stroke="#2a2a2a" stroke-width="0.8"/>
<path d="M181.65 217.79L184.6 220.74L181.65 223.69L178.7 220.74Z" fill="#d2d2d2" stroke="#2a2a2a" stroke-width="0.8"/>
<path d="M196.72 232.5L199.67 235.45L196.72 238.4L193.77 235.45Z" fill="#d2d2d2" stroke="#2a2a2a" stroke-width="0.8"/>
<path d="M211.79 242.21L214.74 245.16L211.79 248.11L208.84 245.16Z" fill="#d2d2d2" stroke="#2a2a2a" stroke-width="0.8"/>
<path d="M226.86 243.52L229.81 246.47L226.86 249.42L223.91 246.47Z" fill="#d2d2d2" stroke="#2a2a2a" stroke-width="0.8"/>
<path d="M241.93 235.12L244.88 238.07L241.93 241.02L238.98 238.07Z" fill="#d2d2d2" stroke="#2a2a2a" stroke-width="0.8"/>
<path d="M257 237.09L259.95 240.04L257 242.99L254.05 240.04Z" fill="#d2d2d2" stroke="#2a2a2a" stroke-width="0.8"/>
<path d="M272.07 241.29L275.02 244.24L272.07 247.19L269.12 244.24Z" fill="#d2d2d2" stroke="#2a2a2a" stroke-width="0.8"/>
<circle cx="136.44" cy="238.07" r="2.4" fill="#b4b4b4" stroke="#2a2a2a" stroke-width="0.8"/>
<circle cx="151.51" cy="241.35" r="2.4" fill="#b4b4b4" stroke="#2a2a2a" stroke-width="0.8"/>
<circle cx="166.58" cy="238.99" r="2.4" fill="#b4b4b4" stroke="#2a2a2a" stroke-width="0.8"/>
<circle cx="181.65" cy="241.35" r="2.4" fill="#b4b4b4" stroke="#2a2a2a" stroke-width="0.8"/>
<circle cx="196.72" cy="240.04" r="2.4" fill="#b4b4b4" stroke="#2a2a2a" stroke-width="0.8"/>
<circle cx="211.79" cy="241.35" r="2.4" fill="#b4b4b4" stroke="#2a2a2a" stroke-width="0.8"/>
<circle cx="226.86" cy="238.07" r="2.4" fill="#b4b4b4" stroke="#2a2a2a" stroke-width="0.8"/>
<circle cx="241.93" cy="240.04" r="2.4" fill="#b4b4b4" stroke="#2a2a2a" stroke-width="0.8"/>
<circle cx="257" cy="230.98" r="2.4" fill="#b4b4b4" stroke="#2a2a2a" stroke-width="0.8"/>
<circle cx="272.07" cy="219.56" r="2.4" fill="#b4b4b4" stroke="#2a2a2a" stroke-width="0.8"/>
<text x="71.8" y="206.3" font-family='"Liberation Sans", sans-serif' font-size="10" font-weight="bold" text-anchor="middle" fill="#000" transform="rotate(-90 71.8 206.3)" stroke="#000" stroke-width="0.3">CD8 T cells</text>
<text x="84" y="207.1" font-family='"Liberation Sans", sans-serif' font-size="10" font-weight="bold" text-anchor="middle" fill="#000" transform="rotate(-90 84 207.1)" stroke="#000" stroke-width="0.3">(relative to week 6)</text>
<text x="198" y="274.1" font-family='"Liberation Sans", sans-serif' font-size="9.6" font-weight="bold" text-anchor="middle" fill="#000" stroke="#000" stroke-width="0.3">Time (wk)</text>
<text x="57.5" y="158.5" font-family='"Liberation Sans", sans-serif' font-size="24.5" font-weight="bold" text-anchor="start" fill="#000">C</text>
<path d="M332 159.3 V250.6 H510.8" fill="none" stroke="#8c8c8c" stroke-width="0.9"/>
<path d="M330 250.6H332" stroke="#8c8c8c" stroke-width="0.8"/>
<text x="327.2" y="252.58" font-family='"Liberation Sans", sans-serif' font-size="6.6" font-weight="normal" text-anchor="end" fill="#505050" stroke="#505050" stroke-width="0.12">0</text>
<path d="M330 241.47H332" stroke="#8c8c8c" stroke-width="0.8"/>
<text x="327.2" y="243.45" font-family='"Liberation Sans", sans-serif' font-size="6.6" font-weight="normal" text-anchor="end" fill="#505050" stroke="#505050" stroke-width="0.12">1</text>
<path d="M330 232.34H332" stroke="#8c8c8c" stroke-width="0.8"/>
<text x="327.2" y="234.32" font-family='"Liberation Sans", sans-serif' font-size="6.6" font-weight="normal" text-anchor="end" fill="#505050" stroke="#505050" stroke-width="0.12">2</text>
<path d="M330 223.21H332" stroke="#8c8c8c" stroke-width="0.8"/>
<text x="327.2" y="225.19" font-family='"Liberation Sans", sans-serif' font-size="6.6" font-weight="normal" text-anchor="end" fill="#505050" stroke="#505050" stroke-width="0.12">3</text>
<path d="M330 214.08H332" stroke="#8c8c8c" stroke-width="0.8"/>
<text x="327.2" y="216.06" font-family='"Liberation Sans", sans-serif' font-size="6.6" font-weight="normal" text-anchor="end" fill="#505050" stroke="#505050" stroke-width="0.12">4</text>
<path d="M330 204.95H332" stroke="#8c8c8c" stroke-width="0.8"/>
<text x="327.2" y="206.93" font-family='"Liberation Sans", sans-serif' font-size="6.6" font-weight="normal" text-anchor="end" fill="#505050" stroke="#505050" stroke-width="0.12">5</text>
<path d="M330 195.82H332" stroke="#8c8c8c" stroke-width="0.8"/>
<text x="327.2" y="197.8" font-family='"Liberation Sans", sans-serif' font-size="6.6" font-weight="normal" text-anchor="end" fill="#505050" stroke="#505050" stroke-width="0.12">6</text>
<path d="M330 186.69H332" stroke="#8c8c8c" stroke-width="0.8"/>
<text x="327.2" y="188.67" font-family='"Liberation Sans", sans-serif' font-size="6.6" font-weight="normal" text-anchor="end" fill="#505050" stroke="#505050" stroke-width="0.12">7</text>
<path d="M330 177.56H332" stroke="#8c8c8c" stroke-width="0.8"/>
<text x="327.2" y="179.54" font-family='"Liberation Sans", sans-serif' font-size="6.6" font-weight="normal" text-anchor="end" fill="#505050" stroke="#505050" stroke-width="0.12">8</text>
<path d="M330 168.43H332" stroke="#8c8c8c" stroke-width="0.8"/>
<text x="327.2" y="170.41" font-family='"Liberation Sans", sans-serif' font-size="6.6" font-weight="normal" text-anchor="end" fill="#505050" stroke="#505050" stroke-width="0.12">9</text>
<path d="M330 159.3H332" stroke="#8c8c8c" stroke-width="0.8"/>
<text x="327.2" y="161.28" font-family='"Liberation Sans", sans-serif' font-size="6.6" font-weight="normal" text-anchor="end" fill="#505050" stroke="#505050" stroke-width="0.12">10</text>
<path d="M347.31 250.6V252.6" stroke="#8c8c8c" stroke-width="0.8"/>
<path d="M362.14 250.6V252.6" stroke="#8c8c8c" stroke-width="0.8"/>
<path d="M376.97 250.6V252.6" stroke="#8c8c8c" stroke-width="0.8"/>
<path d="M391.8 250.6V252.6" stroke="#8c8c8c" stroke-width="0.8"/>
<path d="M406.63 250.6V252.6" stroke="#8c8c8c" stroke-width="0.8"/>
<path d="M421.46 250.6V252.6" stroke="#8c8c8c" stroke-width="0.8"/>
<path d="M436.29 250.6V252.6" stroke="#8c8c8c" stroke-width="0.8"/>
<path d="M451.12 250.6V252.6" stroke="#8c8c8c" stroke-width="0.8"/>
<path d="M465.95 250.6V252.6" stroke="#8c8c8c" stroke-width="0.8"/>
<path d="M480.78 250.6V252.6" stroke="#8c8c8c" stroke-width="0.8"/>
<path d="M495.61 250.6V252.6" stroke="#8c8c8c" stroke-width="0.8"/>
<path d="M510.44 250.6V252.6" stroke="#8c8c8c" stroke-width="0.8"/>
<text x="340.1" y="262" font-family='"Liberation Sans", sans-serif' font-size="6.4" font-weight="normal" text-anchor="middle" fill="#505050" stroke="#505050" stroke-width="0.12">2</text>
<text x="353.3" y="262" font-family='"Liberation Sans", sans-serif' font-size="6.4" font-weight="normal" text-anchor="middle" fill="#505050" stroke="#505050" stroke-width="0.12">4</text>
<text x="367.8" y="262" font-family='"Liberation Sans", sans-serif' font-size="6.4" font-weight="normal" text-anchor="middle" fill="#505050" stroke="#505050" stroke-width="0.12">6</text>
<text x="381" y="262" font-family='"Liberation Sans", sans-serif' font-size="6.4" font-weight="normal" text-anchor="middle" fill="#505050" stroke="#505050" stroke-width="0.12">7</text>
<text x="399.2" y="262" font-family='"Liberation Sans", sans-serif' font-size="6.4" font-weight="normal" text-anchor="middle" fill="#505050" stroke="#505050" stroke-width="0.12">8</text>
<text x="414.2" y="262" font-family='"Liberation Sans", sans-serif' font-size="6.4" font-weight="normal" text-anchor="middle" fill="#505050" stroke="#505050" stroke-width="0.12">9</text>
<text x="430.4" y="262" font-family='"Liberation Sans", sans-serif' font-size="6.4" font-weight="normal" text-anchor="middle" fill="#505050" stroke="#505050" stroke-width="0.12">10</text>
<text x="444.2" y="262" font-family='"Liberation Sans", sans-serif' font-size="6.4" font-weight="normal" text-anchor="middle" fill="#505050" stroke="#505050" stroke-width="0.12">11</text>
<text x="458.9" y="262" font-family='"Liberation Sans", sans-serif' font-size="6.4" font-weight="normal" text-anchor="middle" fill="#505050" stroke="#505050" stroke-width="0.12">12</text>
<text x="473.3" y="262" font-family='"Liberation Sans", sans-serif' font-size="6.4" font-weight="normal" text-anchor="middle" fill="#505050" stroke="#505050" stroke-width="0.12">16</text>
<text x="489.4" y="262" font-family='"Liberation Sans", sans-serif' font-size="6.4" font-weight="normal" text-anchor="middle" fill="#505050" stroke="#505050" stroke-width="0.12">20</text>
<text x="503.7" y="262" font-family='"Liberation Sans", sans-serif' font-size="6.4" font-weight="normal" text-anchor="middle" fill="#505050" stroke="#505050" stroke-width="0.12">24</text>
<rect x="369.2" y="249.3" width="60.8" height="2.6" fill="#000"/>
<path d="M369.56 240.56 L384.39 223.67 L399.22 223.67 L414.05 220.01 L428.88 236.91 L443.71 222.48 L458.54 234.53 L473.37 212.8 L488.2 183.4 L503.03 167.06" fill="none" stroke="#000" stroke-width="0.95" stroke-linejoin="round"/>
<path d="M369.56 240.56 L384.39 232.34 L399.22 227.32 L414.05 238.91 L428.88 244.21 L443.71 244.21 L458.54 239.28 L473.37 231.61 L488.2 225.4 L503.03 218.1" fill="none" stroke="#000" stroke-width="0.95" stroke-linejoin="round"/>
<path d="M369.56 240.56 L384.39 229.6 L399.22 226.86 L414.05 223.21 L428.88 218.92 L443.71 229.69 L458.54 216.36 L473.37 166.6 L488.2 164.6" fill="none" stroke="#000" stroke-width="0.95" stroke-linejoin="round"/>
<path d="M369.56 240.56 L384.39 232.34 L399.22 239.28 L414.05 225.95 L428.88 229.69 L443.71 214.08 L458.54 209.51 L473.37 214.08 L488.2 207.96" fill="none" stroke="#a8a8a8" stroke-width="0.85" stroke-linejoin="round"/>
<path d="M369.56 240.56 L384.39 227.32 L399.22 214.08 L414.05 167.06 L428.88 191.62 L443.71 202.03 L458.54 209.24 L473.37 201.3 L488.2 191.07 L503.03 219.56" fill="none" stroke="#a8a8a8" stroke-width="0.85" stroke-linejoin="round"/>
<path d="M369.56 240.56 L384.39 236.91 L399.22 233.25 L414.05 229.69 L428.88 227.32 L443.71 227.32 L458.54 223.67 L473.37 218.92 L488.2 204.4 L503.03 191.62" fill="none" stroke="#a8a8a8" stroke-width="0.85" stroke-linejoin="round"/>
<path d="M369.56 237.31L372.81 240.56L369.56 243.81L366.31 240.56Z" fill="#000" stroke="#000" stroke-width="0.4"/>
<path d="M384.39 220.42L387.64 223.67L384.39 226.92L381.14 223.67Z" fill="#000" stroke="#000" stroke-width="0.4"/>
<path d="M399.22 220.42L402.47 223.67L399.22 226.92L395.97 223.67Z" fill="#000" stroke="#000" stroke-width="0.4"/>
<path d="M414.05 216.76L417.3 220.01L414.05 223.26L410.8 220.01Z" fill="#000" stroke="#000" stroke-width="0.4"/>
<path d="M428.88 233.66L432.13 236.91L428.88 240.16L425.63 236.91Z" fill="#000" stroke="#000" stroke-width="0.4"/>
<path d="M443.71 219.23L446.96 222.48L443.71 225.73L440.46 222.48Z" fill="#000" stroke="#000" stroke-width="0.4"/>
<path d="M458.54 231.28L461.79 234.53L458.54 237.78L455.29 234.53Z" fill="#000" stroke="#000" stroke-width="0.4"/>
<path d="M473.37 209.55L476.62 212.8L473.37 216.05L470.12 212.8Z" fill="#000" stroke="#000" stroke-width="0.4"/>
<path d="M488.2 180.15L491.45 183.4L488.2 186.65L484.95 183.4Z" fill="#000" stroke="#000" stroke-width="0.4"/>
<path d="M503.03 163.81L506.28 167.06L503.03 170.31L499.78 167.06Z" fill="#000" stroke="#000" stroke-width="0.4"/>
<circle cx="369.56" cy="240.56" r="2.6" fill="#000" stroke="#000" stroke-width="0.4"/>
<circle cx="384.39" cy="232.34" r="2.6" fill="#000" stroke="#000" stroke-width="0.4"/>
<circle cx="399.22" cy="227.32" r="2.6" fill="#000" stroke="#000" stroke-width="0.4"/>
<circle cx="414.05" cy="238.91" r="2.6" fill="#000" stroke="#000" stroke-width="0.4"/>
<circle cx="428.88" cy="244.21" r="2.6" fill="#000" stroke="#000" stroke-width="0.4"/>
<circle cx="443.71" cy="244.21" r="2.6" fill="#000" stroke="#000" stroke-width="0.4"/>
<circle cx="458.54" cy="239.28" r="2.6" fill="#000" stroke="#000" stroke-width="0.4"/>
<circle cx="473.37" cy="231.61" r="2.6" fill="#000" stroke="#000" stroke-width="0.4"/>
<circle cx="488.2" cy="225.4" r="2.6" fill="#000" stroke="#000" stroke-width="0.4"/>
<circle cx="503.03" cy="218.1" r="2.6" fill="#000" stroke="#000" stroke-width="0.4"/>
<rect x="367.01" y="238.01" width="5.1" height="5.1" fill="#000" stroke="#000" stroke-width="0.4"/>
<rect x="381.84" y="227.05" width="5.1" height="5.1" fill="#000" stroke="#000" stroke-width="0.4"/>
<rect x="396.67" y="224.31" width="5.1" height="5.1" fill="#000" stroke="#000" stroke-width="0.4"/>
<rect x="411.5" y="220.66" width="5.1" height="5.1" fill="#000" stroke="#000" stroke-width="0.4"/>
<rect x="426.33" y="216.37" width="5.1" height="5.1" fill="#000" stroke="#000" stroke-width="0.4"/>
<rect x="441.16" y="227.14" width="5.1" height="5.1" fill="#000" stroke="#000" stroke-width="0.4"/>
<rect x="455.99" y="213.81" width="5.1" height="5.1" fill="#000" stroke="#000" stroke-width="0.4"/>
<rect x="470.82" y="164.05" width="5.1" height="5.1" fill="#000" stroke="#000" stroke-width="0.4"/>
<rect x="485.65" y="162.05" width="5.1" height="5.1" fill="#000" stroke="#000" stroke-width="0.4"/>
<rect x="367.21" y="238.21" width="4.7" height="4.7" fill="#b4b4b4" stroke="#2a2a2a" stroke-width="0.8"/>
<rect x="382.04" y="229.99" width="4.7" height="4.7" fill="#b4b4b4" stroke="#2a2a2a" stroke-width="0.8"/>
<rect x="396.87" y="236.93" width="4.7" height="4.7" fill="#b4b4b4" stroke="#2a2a2a" stroke-width="0.8"/>
<rect x="411.7" y="223.6" width="4.7" height="4.7" fill="#b4b4b4" stroke="#2a2a2a" stroke-width="0.8"/>
<rect x="426.53" y="227.34" width="4.7" height="4.7" fill="#b4b4b4" stroke="#2a2a2a" stroke-width="0.8"/>
<rect x="441.36" y="211.73" width="4.7" height="4.7" fill="#b4b4b4" stroke="#2a2a2a" stroke-width="0.8"/>
<rect x="456.19" y="207.16" width="4.7" height="4.7" fill="#b4b4b4" stroke="#2a2a2a" stroke-width="0.8"/>
<rect x="471.02" y="211.73" width="4.7" height="4.7" fill="#b4b4b4" stroke="#2a2a2a" stroke-width="0.8"/>
<rect x="485.85" y="205.61" width="4.7" height="4.7" fill="#b4b4b4" stroke="#2a2a2a" stroke-width="0.8"/>
<path d="M369.56 237.61L372.51 240.56L369.56 243.51L366.61 240.56Z" fill="#d2d2d2" stroke="#2a2a2a" stroke-width="0.8"/>
<path d="M384.39 224.37L387.34 227.32L384.39 230.27L381.44 227.32Z" fill="#d2d2d2" stroke="#2a2a2a" stroke-width="0.8"/>
<path d="M399.22 211.13L402.17 214.08L399.22 217.03L396.27 214.08Z" fill="#d2d2d2" stroke="#2a2a2a" stroke-width="0.8"/>
<path d="M414.05 164.11L417 167.06L414.05 170.01L411.1 167.06Z" fill="#d2d2d2" stroke="#2a2a2a" stroke-width="0.8"/>
<path d="M428.88 188.67L431.83 191.62L428.88 194.57L425.93 191.62Z" fill="#d2d2d2" stroke="#2a2a2a" stroke-width="0.8"/>
<path d="M443.71 199.08L446.66 202.03L443.71 204.98L440.76 202.03Z" fill="#d2d2d2" stroke="#2a2a2a" stroke-width="0.8"/>
<path d="M458.54 206.29L461.49 209.24L458.54 212.19L455.59 209.24Z" fill="#d2d2d2" stroke="#2a2a2a" stroke-width="0.8"/>
<path d="M473.37 198.35L476.32 201.3L473.37 204.25L470.42 201.3Z" fill="#d2d2d2" stroke="#2a2a2a" stroke-width="0.8"/>
<path d="M488.2 188.12L491.15 191.07L488.2 194.02L485.25 191.07Z" fill="#d2d2d2" stroke="#2a2a2a" stroke-width="0.8"/>
<path d="M503.03 216.61L505.98 219.56L503.03 222.51L500.08 219.56Z" fill="#d2d2d2" stroke="#2a2a2a" stroke-width="0.8"/>
<circle cx="369.56" cy="240.56" r="2.4" fill="#b4b4b4" stroke="#2a2a2a" stroke-width="0.8"/>
<circle cx="384.39" cy="236.91" r="2.4" fill="#b4b4b4" stroke="#2a2a2a" stroke-width="0.8"/>
<circle cx="399.22" cy="233.25" r="2.4" fill="#b4b4b4" stroke="#2a2a2a" stroke-width="0.8"/>
<circle cx="414.05" cy="229.69" r="2.4" fill="#b4b4b4" stroke="#2a2a2a" stroke-width="0.8"/>
<circle cx="428.88" cy="227.32" r="2.4" fill="#b4b4b4" stroke="#2a2a2a" stroke-width="0.8"/>
<circle cx="443.71" cy="227.32" r="2.4" fill="#b4b4b4" stroke="#2a2a2a" stroke-width="0.8"/>
<circle cx="458.54" cy="223.67" r="2.4" fill="#b4b4b4" stroke="#2a2a2a" stroke-width="0.8"/>
<circle cx="473.37" cy="218.92" r="2.4" fill="#b4b4b4" stroke="#2a2a2a" stroke-width="0.8"/>
<circle cx="488.2" cy="204.4" r="2.4" fill="#b4b4b4" stroke="#2a2a2a" stroke-width="0.8"/>
<circle cx="503.03" cy="191.62" r="2.4" fill="#b4b4b4" stroke="#2a2a2a" stroke-width="0.8"/>
<text x="301.6" y="205.6" font-family='"Liberation Sans", sans-serif' font-size="10" font-weight="bold" text-anchor="middle" fill="#000" transform="rotate(-90 301.6 205.6)" stroke="#000" stroke-width="0.3">B cells</text>
<text x="314.4" y="207.1" font-family='"Liberation Sans", sans-serif' font-size="10" font-weight="bold" text-anchor="middle" fill="#000" transform="rotate(-90 314.4 207.1)" stroke="#000" stroke-width="0.3">(relative to week 6)</text>
<text x="429" y="273.6" font-family='"Liberation Sans", sans-serif' font-size="9.6" font-weight="bold" text-anchor="middle" fill="#000" stroke="#000" stroke-width="0.3">Time (wk)</text>
<text x="288.5" y="159.8" font-family='"Liberation Sans", sans-serif' font-size="24.5" font-weight="bold" text-anchor="start" fill="#000">D</text>
<path d="M97.5 306 V393 H283" fill="none" stroke="#8c8c8c" stroke-width="0.9"/>
<path d="M95.5 393H97.5" stroke="#8c8c8c" stroke-width="0.8"/>
<text x="91.9" y="395.58" font-family='"Liberation Sans", sans-serif' font-size="8.6" font-weight="normal" text-anchor="end" fill="#2a2a2a" stroke="#2a2a2a" stroke-width="0.1">0</text>
<path d="M95.5 378.5H97.5" stroke="#8c8c8c" stroke-width="0.8"/>
<text x="91.9" y="381.08" font-family='"Liberation Sans", sans-serif' font-size="8.6" font-weight="normal" text-anchor="end" fill="#2a2a2a" stroke="#2a2a2a" stroke-width="0.1">5</text>
<path d="M95.5 364H97.5" stroke="#8c8c8c" stroke-width="0.8"/>
<text x="91.9" y="366.58" font-family='"Liberation Sans", sans-serif' font-size="8.6" font-weight="normal" text-anchor="end" fill="#2a2a2a" stroke="#2a2a2a" stroke-width="0.1">10</text>
<path d="M95.5 349.5H97.5" stroke="#8c8c8c" stroke-width="0.8"/>
<text x="91.9" y="352.08" font-family='"Liberation Sans", sans-serif' font-size="8.6" font-weight="normal" text-anchor="end" fill="#2a2a2a" stroke="#2a2a2a" stroke-width="0.1">15</text>
<path d="M95.5 335H97.5" stroke="#8c8c8c" stroke-width="0.8"/>
<text x="91.9" y="337.58" font-family='"Liberation Sans", sans-serif' font-size="8.6" font-weight="normal" text-anchor="end" fill="#2a2a2a" stroke="#2a2a2a" stroke-width="0.1">20</text>
<path d="M95.5 320.5H97.5" stroke="#8c8c8c" stroke-width="0.8"/>
<text x="91.9" y="323.08" font-family='"Liberation Sans", sans-serif' font-size="8.6" font-weight="normal" text-anchor="end" fill="#2a2a2a" stroke="#2a2a2a" stroke-width="0.1">25</text>
<path d="M95.5 306H97.5" stroke="#8c8c8c" stroke-width="0.8"/>
<text x="91.9" y="308.58" font-family='"Liberation Sans", sans-serif' font-size="8.6" font-weight="normal" text-anchor="end" fill="#2a2a2a" stroke="#2a2a2a" stroke-width="0.1">30</text>
<path d="M159 393V396" stroke="#8c8c8c" stroke-width="0.8"/>
<path d="M221.2 393V396" stroke="#8c8c8c" stroke-width="0.8"/>
<path d="M283 393V396" stroke="#8c8c8c" stroke-width="0.8"/>
<text x="128.2" y="413.7" font-family='"Liberation Sans", sans-serif' font-size="11" font-weight="normal" text-anchor="middle" fill="#111">6 wk</text>
<text x="189.2" y="413.7" font-family='"Liberation Sans", sans-serif' font-size="11" font-weight="normal" text-anchor="middle" fill="#111">10 wk</text>
<text x="249.2" y="413.7" font-family='"Liberation Sans", sans-serif' font-size="11" font-weight="normal" text-anchor="middle" fill="#111">5-6 mo</text>
<rect x="127" y="391.6" width="63" height="2.8" fill="#000"/>
<path d="M128.2 315.86 L189.2 325.14 L249.2 362.26" fill="none" stroke="#000" stroke-width="1.1" stroke-linejoin="round"/>
<path d="M128.2 339.06 L189.2 358.2 L249.2 346.02" fill="none" stroke="#000" stroke-width="1.1" stroke-linejoin="round"/>
<path d="M128.2 310.64 L189.2 321.66 L249.2 343.99" fill="none" stroke="#000" stroke-width="1.1" stroke-linejoin="round"/>
<path d="M128.2 315.28 L189.2 371.54 L249.2 352.98" fill="none" stroke="#a8a8a8" stroke-width="1.3" stroke-linejoin="round"/>
<path d="M128.2 314.7 L189.2 369.8 L249.2 346.89" fill="none" stroke="#a8a8a8" stroke-width="1.3" stroke-linejoin="round"/>
<path d="M128.2 313.83 L189.2 364.87 L249.2 346.89" fill="none" stroke="#a8a8a8" stroke-width="1.3" stroke-linejoin="round"/>
<path d="M128.2 312.61L131.45 315.86L128.2 319.11L124.95 315.86Z" fill="#000" stroke="#000" stroke-width="0.4"/>
<path d="M189.2 321.89L192.45 325.14L189.2 328.39L185.95 325.14Z" fill="#000" stroke="#000" stroke-width="0.4"/>
<path d="M249.2 359.01L252.45 362.26L249.2 365.51L245.95 362.26Z" fill="#000" stroke="#000" stroke-width="0.4"/>
<rect x="125.65" y="336.51" width="5.1" height="5.1" fill="#000" stroke="#000" stroke-width="0.4"/>
<rect x="186.65" y="355.65" width="5.1" height="5.1" fill="#000" stroke="#000" stroke-width="0.4"/>
<rect x="246.65" y="343.47" width="5.1" height="5.1" fill="#000" stroke="#000" stroke-width="0.4"/>
<circle cx="128.2" cy="310.64" r="2.6" fill="#000" stroke="#000" stroke-width="0.4"/>
<circle cx="189.2" cy="321.66" r="2.6" fill="#000" stroke="#000" stroke-width="0.4"/>
<circle cx="249.2" cy="343.99" r="2.6" fill="#000" stroke="#000" stroke-width="0.4"/>
<rect x="125.85" y="312.93" width="4.7" height="4.7" fill="#b4b4b4" stroke="#2a2a2a" stroke-width="0.8"/>
<rect x="186.85" y="369.19" width="4.7" height="4.7" fill="#b4b4b4" stroke="#2a2a2a" stroke-width="0.8"/>
<rect x="246.85" y="350.63" width="4.7" height="4.7" fill="#b4b4b4" stroke="#2a2a2a" stroke-width="0.8"/>
<path d="M128.2 311.75L131.15 314.7L128.2 317.65L125.25 314.7Z" fill="#d2d2d2" stroke="#2a2a2a" stroke-width="0.8"/>
<path d="M189.2 366.85L192.15 369.8L189.2 372.75L186.25 369.8Z" fill="#d2d2d2" stroke="#2a2a2a" stroke-width="0.8"/>
<path d="M249.2 343.94L252.15 346.89L249.2 349.84L246.25 346.89Z" fill="#d2d2d2" stroke="#2a2a2a" stroke-width="0.8"/>
<circle cx="128.2" cy="313.83" r="2.4" fill="#b4b4b4" stroke="#2a2a2a" stroke-width="0.8"/>
<circle cx="189.2" cy="364.87" r="2.4" fill="#b4b4b4" stroke="#2a2a2a" stroke-width="0.8"/>
<circle cx="249.2" cy="346.89" r="2.4" fill="#b4b4b4" stroke="#2a2a2a" stroke-width="0.8"/>
<text x="73.3" y="349.2" font-family='"Liberation Sans", sans-serif' font-size="12.8" font-weight="bold" text-anchor="middle" fill="#000" transform="rotate(-90 73.3 349.2)" stroke="#000" stroke-width="0.3">% CD8 T cells</text>
<text x="60.5" y="305.1" font-family='"Liberation Sans", sans-serif' font-size="24.5" font-weight="bold" text-anchor="start" fill="#000">E</text>
<path d="M328.3 306.3 V392.4 H514" fill="none" stroke="#8c8c8c" stroke-width="0.9"/>
<path d="M326.3 392.4H328.3" stroke="#8c8c8c" stroke-width="0.8"/>
<text x="322.7" y="394.98" font-family='"Liberation Sans", sans-serif' font-size="8.6" font-weight="normal" text-anchor="end" fill="#2a2a2a" stroke="#2a2a2a" stroke-width="0.1">0</text>
<path d="M326.3 380.1H328.3" stroke="#8c8c8c" stroke-width="0.8"/>
<text x="322.7" y="382.68" font-family='"Liberation Sans", sans-serif' font-size="8.6" font-weight="normal" text-anchor="end" fill="#2a2a2a" stroke="#2a2a2a" stroke-width="0.1">10</text>
<path d="M326.3 367.8H328.3" stroke="#8c8c8c" stroke-width="0.8"/>
<text x="322.7" y="370.38" font-family='"Liberation Sans", sans-serif' font-size="8.6" font-weight="normal" text-anchor="end" fill="#2a2a2a" stroke="#2a2a2a" stroke-width="0.1">20</text>
<path d="M326.3 355.5H328.3" stroke="#8c8c8c" stroke-width="0.8"/>
<text x="322.7" y="358.08" font-family='"Liberation Sans", sans-serif' font-size="8.6" font-weight="normal" text-anchor="end" fill="#2a2a2a" stroke="#2a2a2a" stroke-width="0.1">30</text>
<path d="M326.3 343.2H328.3" stroke="#8c8c8c" stroke-width="0.8"/>
<text x="322.7" y="345.78" font-family='"Liberation Sans", sans-serif' font-size="8.6" font-weight="normal" text-anchor="end" fill="#2a2a2a" stroke="#2a2a2a" stroke-width="0.1">40</text>
<path d="M326.3 330.9H328.3" stroke="#8c8c8c" stroke-width="0.8"/>
<text x="322.7" y="333.48" font-family='"Liberation Sans", sans-serif' font-size="8.6" font-weight="normal" text-anchor="end" fill="#2a2a2a" stroke="#2a2a2a" stroke-width="0.1">50</text>
<path d="M326.3 318.6H328.3" stroke="#8c8c8c" stroke-width="0.8"/>
<text x="322.7" y="321.18" font-family='"Liberation Sans", sans-serif' font-size="8.6" font-weight="normal" text-anchor="end" fill="#2a2a2a" stroke="#2a2a2a" stroke-width="0.1">60</text>
<path d="M326.3 306.3H328.3" stroke="#8c8c8c" stroke-width="0.8"/>
<text x="322.7" y="308.88" font-family='"Liberation Sans", sans-serif' font-size="8.6" font-weight="normal" text-anchor="end" fill="#2a2a2a" stroke="#2a2a2a" stroke-width="0.1">70</text>
<path d="M389.2 392.4V395.4" stroke="#8c8c8c" stroke-width="0.8"/>
<path d="M451 392.4V395.4" stroke="#8c8c8c" stroke-width="0.8"/>
<path d="M514 392.4V395.4" stroke="#8c8c8c" stroke-width="0.8"/>
<text x="358.5" y="413.7" font-family='"Liberation Sans", sans-serif' font-size="11" font-weight="normal" text-anchor="middle" fill="#111">6 wk</text>
<text x="420" y="413.7" font-family='"Liberation Sans", sans-serif' font-size="11" font-weight="normal" text-anchor="middle" fill="#111">10 wk</text>
<text x="479.8" y="413.7" font-family='"Liberation Sans", sans-serif' font-size="11" font-weight="normal" text-anchor="middle" fill="#111">5-6 mo</text>
<rect x="357.5" y="391" width="64" height="2.8" fill="#000"/>
<path d="M358.5 384.28 L420 380.71 L479.8 320.08" fill="none" stroke="#000" stroke-width="1.1" stroke-linejoin="round"/>
<path d="M358.5 331.88 L420 376.04 L479.8 336.93" fill="none" stroke="#000" stroke-width="1.1" stroke-linejoin="round"/>
<path d="M358.5 381.7 L420 361.03 L479.8 336.93" fill="none" stroke="#000" stroke-width="1.1" stroke-linejoin="round"/>
<path d="M358.5 378.87 L420 322.29 L479.8 358.33" fill="none" stroke="#a8a8a8" stroke-width="1.3" stroke-linejoin="round"/>
<path d="M358.5 373.33 L420 323.52 L479.8 355.25" fill="none" stroke="#a8a8a8" stroke-width="1.3" stroke-linejoin="round"/>
<path d="M358.5 377.89 L420 324.26 L479.8 356.73" fill="none" stroke="#a8a8a8" stroke-width="1.3" stroke-linejoin="round"/>
<path d="M358.5 381.03L361.75 384.28L358.5 387.53L355.25 384.28Z" fill="#000" stroke="#000" stroke-width="0.4"/>
<path d="M420 377.46L423.25 380.71L420 383.96L416.75 380.71Z" fill="#000" stroke="#000" stroke-width="0.4"/>
<path d="M479.8 316.83L483.05 320.08L479.8 323.33L476.55 320.08Z" fill="#000" stroke="#000" stroke-width="0.4"/>
<circle cx="358.5" cy="331.88" r="2.6" fill="#000" stroke="#000" stroke-width="0.4"/>
<circle cx="420" cy="376.04" r="2.6" fill="#000" stroke="#000" stroke-width="0.4"/>
<circle cx="479.8" cy="336.93" r="2.6" fill="#000" stroke="#000" stroke-width="0.4"/>
<rect x="355.95" y="379.15" width="5.1" height="5.1" fill="#000" stroke="#000" stroke-width="0.4"/>
<rect x="417.45" y="358.48" width="5.1" height="5.1" fill="#000" stroke="#000" stroke-width="0.4"/>
<rect x="477.25" y="334.38" width="5.1" height="5.1" fill="#000" stroke="#000" stroke-width="0.4"/>
<rect x="356.15" y="376.52" width="4.7" height="4.7" fill="#b4b4b4" stroke="#2a2a2a" stroke-width="0.8"/>
<rect x="417.65" y="319.94" width="4.7" height="4.7" fill="#b4b4b4" stroke="#2a2a2a" stroke-width="0.8"/>
<rect x="477.45" y="355.98" width="4.7" height="4.7" fill="#b4b4b4" stroke="#2a2a2a" stroke-width="0.8"/>
<path d="M358.5 370.38L361.45 373.33L358.5 376.28L355.55 373.33Z" fill="#d2d2d2" stroke="#2a2a2a" stroke-width="0.8"/>
<path d="M420 320.57L422.95 323.52L420 326.47L417.05 323.52Z" fill="#d2d2d2" stroke="#2a2a2a" stroke-width="0.8"/>
<path d="M479.8 352.3L482.75 355.25L479.8 358.2L476.85 355.25Z" fill="#d2d2d2" stroke="#2a2a2a" stroke-width="0.8"/>
<circle cx="358.5" cy="377.89" r="2.4" fill="#b4b4b4" stroke="#2a2a2a" stroke-width="0.8"/>
<circle cx="420" cy="324.26" r="2.4" fill="#b4b4b4" stroke="#2a2a2a" stroke-width="0.8"/>
<circle cx="479.8" cy="356.73" r="2.4" fill="#b4b4b4" stroke="#2a2a2a" stroke-width="0.8"/>
<text x="303.6" y="351.2" font-family='"Liberation Sans", sans-serif' font-size="11.9" font-weight="bold" text-anchor="middle" fill="#000" transform="rotate(-90 303.6 351.2)" stroke="#000" stroke-width="0.3">% B cells</text>
<text x="293.5" y="305.6" font-family='"Liberation Sans", sans-serif' font-size="24.5" font-weight="bold" text-anchor="start" fill="#000">F</text>
<text x="1.7" y="152.6" font-family='"Liberation Serif", serif' font-size="14" font-weight="normal" text-anchor="start" fill="#000">Blood</text>
<text x="1.7" y="349.8" font-family='"Liberation Serif", serif' font-size="14" font-weight="normal" text-anchor="start" fill="#000" letter-spacing="0.35">Lymph</text>
<text x="1.7" y="365.8" font-family='"Liberation Serif", serif' font-size="14" font-weight="normal" text-anchor="start" fill="#000" letter-spacing="0.1">nodes</text>
</svg>
</body></html>
